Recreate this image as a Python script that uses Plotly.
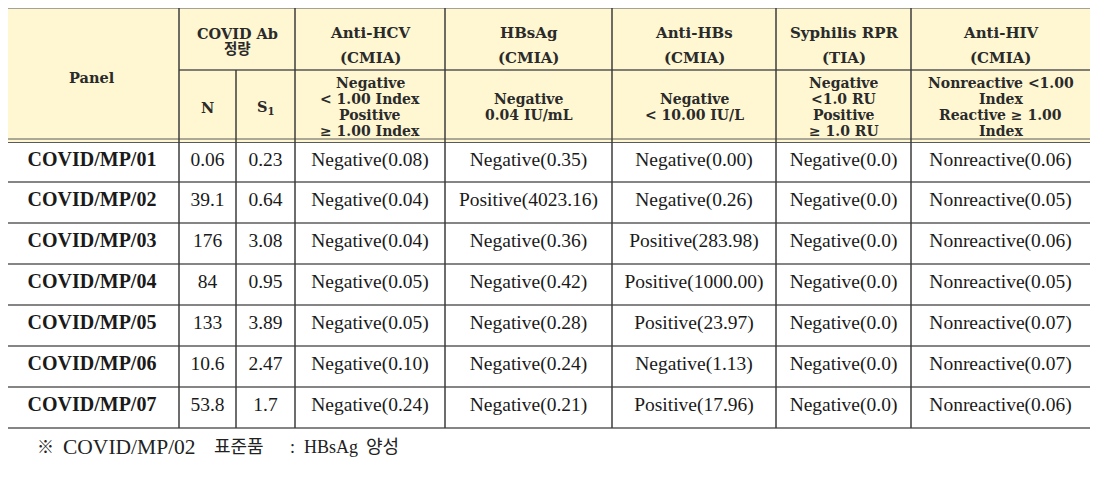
import plotly.graph_objects as go

# ---------------- data ----------------
panels = ["COVID/MP/01", "COVID/MP/02", "COVID/MP/03", "COVID/MP/04",
          "COVID/MP/05", "COVID/MP/06", "COVID/MP/07"]
covid_n = [0.06, 39.1, 176, 84, 133, 10.6, 53.8]
covid_s1 = [0.23, 0.64, 3.08, 0.95, 3.89, 2.47, 1.7]
hcv_result = ["Negative"] * 7
hcv_value = [0.08, 0.04, 0.04, 0.05, 0.05, 0.10, 0.24]
hbsag_result = ["Negative", "Positive", "Negative", "Negative", "Negative", "Negative", "Negative"]
hbsag_value = [0.35, 4023.16, 0.36, 0.42, 0.28, 0.24, 0.21]
hbs_result = ["Negative", "Negative", "Positive", "Positive", "Positive", "Negative", "Positive"]
hbs_value = [0.00, 0.26, 283.98, 1000.00, 23.97, 1.13, 17.96]
rpr_result = ["Negative"] * 7
rpr_value = [0.0] * 7
hiv_result = ["Nonreactive"] * 7
hiv_value = [0.06, 0.05, 0.06, 0.05, 0.07, 0.07, 0.06]

panel_header = "Panel"
covid_header = ["COVID Ab", "정량"]
sub_headers = ["N", "S<sub>1</sub>"]
assay_names = ["Anti-HCV", "HBsAg", "Anti-HBs", "Syphilis RPR", "Anti-HIV"]
assay_methods = ["(CMIA)", "(CMIA)", "(CMIA)", "(TIA)", "(CMIA)"]
assay_criteria = [
    ["Negative", "< 1.00 Index", "Positive", "≥ 1.00 Index"],
    ["Negative", "0.04 IU/mL"],
    ["Negative", "< 10.00 IU/L"],
    ["Negative", "<1.0 RU", "Positive", "≥ 1.0 RU"],
    ["Nonreactive <1.00", "Index", "Reactive ≥ 1.00", "Index"],
]
footnote_parts = ["※", "COVID/MP/02", "표준품", ":", "HBsAg", "양성"]

# ---------------- layout geometry (screen pixels) ----------------
W, H = 1114, 482
PAGE_MARGIN = 8  # default body margin of the html page
col_edges = [5, 179, 236, 295, 445, 612, 776, 911, 1090]
y_top, y_mid, y_head_bot = 8, 70, 141
row_edges = [143, 182, 223, 264, 305, 346, 387, 428]
footnote_x = [35, 61, 212, 288, 302, 364]
footnote_sizes = [17, 21.5, 18, 18, 18, 18]
footnote_y = 447

HEAD_FONT = "DejaVu Serif, Noto Sans CJK KR"
DATA_FONT = "Liberation Serif, Noto Sans CJK KR"
HEAD_BG = "#FEF7D2"
DARK = "#3c3c3c"
GRAY = "#858585"

def fmt_res(r, v, d=2):
    return f"{r}({v:.{d}f})"

columns = [
    panels,
    [f"{v:g}" for v in covid_n],
    [f"{v:g}" for v in covid_s1],
    [fmt_res(r, v) for r, v in zip(hcv_result, hcv_value)],
    [fmt_res(r, v) for r, v in zip(hbsag_result, hbsag_value)],
    [fmt_res(r, v) for r, v in zip(hbs_result, hbs_value)],
    [fmt_res(r, v, 1) for r, v in zip(rpr_result, rpr_value)],
    [fmt_res(r, v) for r, v in zip(hiv_result, hiv_value)],
]

fig = go.Figure()

col_centers = [(col_edges[i] + col_edges[i + 1]) / 2 for i in range(len(col_edges) - 1)]
row_centers = [(row_edges[i] + row_edges[i + 1]) / 2 - 1.5 for i in range(len(row_edges) - 1)]

for ci, col in enumerate(columns):
    fig.add_trace(go.Scatter(
        x=[col_centers[ci]] * len(col), y=row_centers[:len(col)],
        mode="text", text=col, textposition="middle center",
        textfont=dict(family=DATA_FONT, size=20 if ci == 0 else 19.5,
                      color="#1a1a1a", weight="bold" if ci == 0 else "normal"),
        hoverinfo="skip", showlegend=False,
    ))

shapes = []
shapes.append(dict(type="rect", x0=col_edges[0], x1=col_edges[-1], y0=y_top, y1=y_head_bot + 1,
                   fillcolor=HEAD_BG, line=dict(width=0), layer="below"))
shapes.append(dict(type="line", x0=col_edges[0], x1=col_edges[-1], y0=y_top, y1=y_top,
                   line=dict(color=GRAY, width=1.5)))
shapes.append(dict(type="line", x0=col_edges[1], x1=col_edges[-1], y0=y_mid, y1=y_mid,
                   line=dict(color="#555555", width=1.5)))
for yy in (y_head_bot - 2, y_head_bot + 1.5):
    shapes.append(dict(type="line", x0=col_edges[0], x1=col_edges[-1], y0=yy, y1=yy,
                       line=dict(color="#5a5a5a", width=1.2)))
for yy in row_edges[1:]:
    shapes.append(dict(type="line", x0=col_edges[0], x1=col_edges[-1], y0=yy, y1=yy,
                       line=dict(color=GRAY, width=2)))
for i, xx in enumerate(col_edges[1:-1], start=1):
    y0 = y_mid if i == 2 else y_top
    shapes.append(dict(type="line", x0=xx, x1=xx, y0=y0, y1=row_edges[-1],
                       line=dict(color=DARK, width=1.5)))

annotations = []
def add_text(x, y, t, size=14, bold=True, font=HEAD_FONT, color="#2a2a2a", xanchor="center"):
    annotations.append(dict(x=x, y=y, xref="x", yref="y", text=t, showarrow=False,
                            xanchor=xanchor, yanchor="middle",
                            font=dict(family=font, size=size, color=color,
                                      weight="bold" if bold else "normal")))

add_text(col_centers[0], 77, panel_header, size=14.5)
covid_cx = (col_edges[1] + col_edges[3]) / 2
for k, line in enumerate(covid_header):
    add_text(covid_cx, 33 + 15 * k, line, size=14.5)
for k, t in enumerate(sub_headers):
    add_text(col_centers[1 + k], 107, t, size=14.5)
for a in range(len(assay_names)):
    cx = col_centers[3 + a]
    add_text(cx, 33, assay_names[a], size=15)
    add_text(cx, 58, assay_methods[a], size=15)
    crit = assay_criteria[a]
    n = len(crit)
    for k, line in enumerate(crit):
        add_text(cx, 107 + (k - (n - 1) / 2) * 16, line, size=14)

for t, x, s in zip(footnote_parts, footnote_x, footnote_sizes):
    add_text(x, footnote_y, t, size=s, bold=False, font=DATA_FONT, color="#222222", xanchor="left")

fig.update_layout(
    width=W - PAGE_MARGIN, height=H - PAGE_MARGIN, margin=dict(l=0, r=0, t=0, b=0),
    paper_bgcolor="white", plot_bgcolor="white",
    xaxis=dict(range=[PAGE_MARGIN, W], visible=False, fixedrange=True),
    yaxis=dict(range=[H, PAGE_MARGIN], visible=False, fixedrange=True),
    shapes=shapes, annotations=annotations,
)

fig.write_html("out.html")
